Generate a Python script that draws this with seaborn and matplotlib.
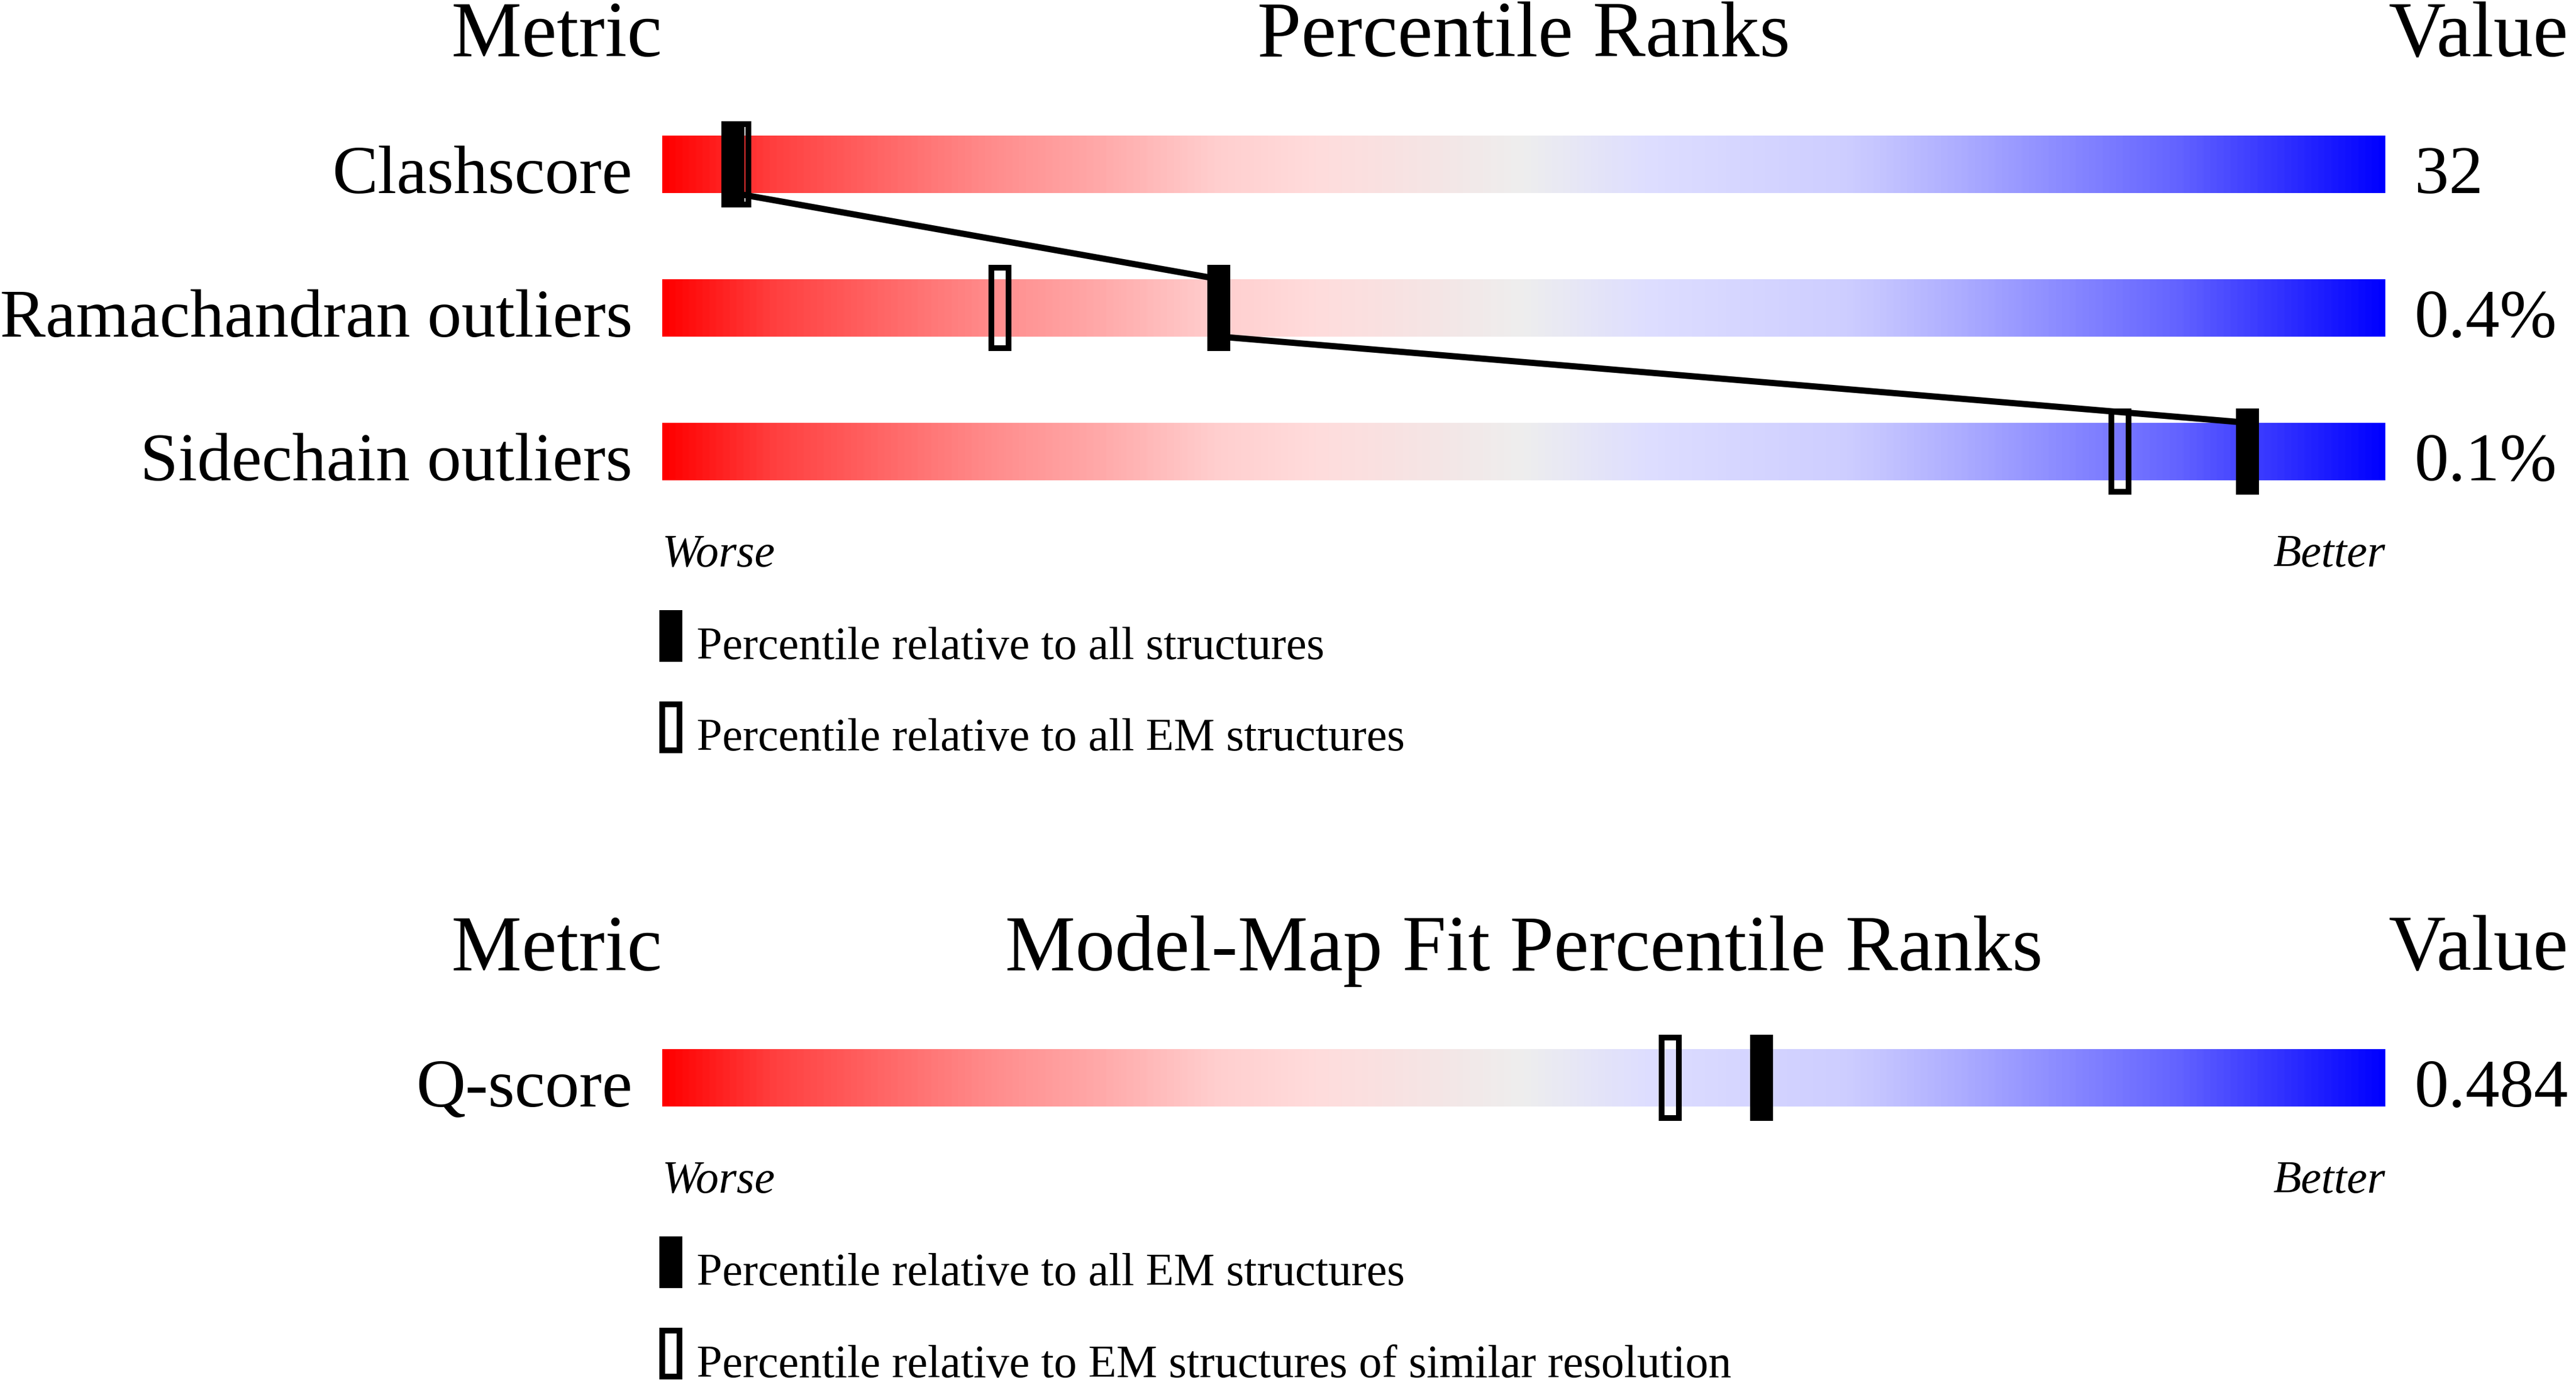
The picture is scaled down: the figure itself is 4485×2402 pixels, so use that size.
import matplotlib
matplotlib.use("Agg")
import matplotlib.pyplot as plt
from matplotlib.colors import LinearSegmentedColormap
import numpy as np
import pandas as pd
import seaborn as sns

# ---------------------------------------------------------------------------
# Data (percentile ranks read off the reference slider)
# ---------------------------------------------------------------------------
top_metrics = ["Clashscore", "Ramachandran outliers", "Sidechain outliers"]
top_values = ["32", "0.4%", "0.1%"]
top_pct_filled = [4.1, 32.3, 92.0]   # relative to all structures
top_pct_open = [4.5, 19.6, 84.6]     # relative to all EM structures
top_legend = ["Percentile relative to all structures",
              "Percentile relative to all EM structures"]

fit_metrics = ["Q-score"]
fit_values = ["0.484"]
fit_pct_filled = [63.8]              # relative to all EM structures
fit_pct_open = [58.5]                # relative to EM structures of similar resolution
fit_legend = ["Percentile relative to all EM structures",
              "Percentile relative to EM structures of similar resolution"]

# slider colour ramp: worse (red) -> grey -> better (blue)
grad_pos = [0.0, 0.064, 0.19, 0.255, 0.32, 0.38, 0.446, 0.50,
            0.57, 0.69, 0.75, 0.82, 0.88, 1.0]
grad_col = ["#ff0000", "#ff4040", "#ff8c8c", "#ffaaaa", "#ffcece", "#ffdcdc",
            "#f5e5e5", "#eeeeee", "#dedeff", "#cdcdff", "#afafff", "#8787ff",
            "#6464ff", "#0000ff"]

# ---------------------------------------------------------------------------
# Layout (pixels of the output image)
# ---------------------------------------------------------------------------
W, H, DPI = 4485, 2402, 300
BAR_L, BAR_R = 1153, 4153
ROW_PX = 250
XU = (BAR_R - BAR_L) / 100.0       # px per percentile unit

sns.set_theme(style="white")
plt.rcParams["font.family"] = ["Liberation Serif", "DejaVu Serif"]
plt.rcParams["text.color"] = "black"

cmap = LinearSegmentedColormap.from_list("slider", list(zip(grad_pos, grad_col)))
ramp = np.linspace(0, 1, 1024)[None, :]

HEAD_FS, LABEL_FS, SMALL_FS = 33.0, 28.6, 19.2


def draw_panel(fig, row0_center, title, metrics, values, pct_filled, pct_open, legend):
    n = len(metrics)
    top_px = row0_center - ROW_PX / 2
    ax = fig.add_axes([BAR_L / W, 1 - (top_px + n * ROW_PX) / H,
                       (BAR_R - BAR_L) / W, n * ROW_PX / H])

    rows = np.arange(n)
    for i in rows:
        ax.imshow(ramp, cmap=cmap, extent=(0, 100, i + 0.2, i - 0.2),
                  aspect="auto", interpolation="bilinear", zorder=1)

    # line joining the filled markers, bar bottom -> next bar top
    if n > 1:
        lx, ly = [], []
        for i in rows:
            if i > 0:
                lx.append(pct_filled[i]); ly.append(i - 0.2)
            if i < n - 1:
                lx.append(pct_filled[i]); ly.append(i + 0.2)
        line_df = pd.DataFrame({"pct": lx, "row": ly})
        sns.lineplot(data=line_df, x="pct", y="row", sort=False, estimator=None,
                     color="black", linewidth=2.6, ax=ax, zorder=2)

    ax.bar(pct_open, 0.56, width=1.0, bottom=rows - 0.28, facecolor="none",
           edgecolor="black", linewidth=2.4, zorder=3)
    ax.bar(pct_filled, 0.56, width=1.0, bottom=rows - 0.28, facecolor="black",
           edgecolor="black", linewidth=2.4, zorder=4)

    # headers
    hy = -0.75
    ax.text(0, hy, "Metric", ha="right", va="baseline", fontsize=HEAD_FS)
    ax.text(50, hy, title, ha="center", va="baseline", fontsize=HEAD_FS)
    ax.text(100.2, hy, "Value", ha="left", va="baseline", fontsize=HEAD_FS)

    for i in rows:
        ax.text(-52 / XU, i + 0.2, metrics[i], ha="right", va="baseline",
                fontsize=LABEL_FS)
        ax.text(100 + 51 / XU, i + 0.2, values[i], ha="left", va="baseline",
                fontsize=LABEL_FS)

    last = n - 1
    ax.text(0, last + 0.8, "Worse", ha="left", va="baseline",
            fontsize=SMALL_FS, style="italic")
    ax.text(100, last + 0.8, "Better", ha="right", va="baseline",
            fontsize=SMALL_FS, style="italic")

    # legend
    key_y = [last + 1.283, last + 1.921]
    ax.bar([0.5], [0.32], width=1.0, bottom=[key_y[0] - 0.16], facecolor="black",
           edgecolor="black", linewidth=2.4, clip_on=False)
    ax.bar([0.5], [0.32], width=1.0, bottom=[key_y[1] - 0.16], facecolor="none",
           edgecolor="black", linewidth=2.4, clip_on=False)
    for k, txt in enumerate(legend):
        ax.text(2.0, key_y[k] + 0.161, txt, ha="left", va="baseline",
                fontsize=SMALL_FS)

    ax.set_xlim(0, 100)
    ax.set_ylim(n - 0.5, -0.5)
    ax.axis("off")
    return ax


fig = plt.figure(figsize=(W / DPI, H / DPI), dpi=DPI)
draw_panel(fig, 285.8, "Percentile Ranks", top_metrics, top_values,
           top_pct_filled, top_pct_open, top_legend)
draw_panel(fig, 1876.0, "Model-Map Fit Percentile Ranks", fit_metrics, fit_values,
           fit_pct_filled, fit_pct_open, fit_legend)

fig.savefig("out.png", dpi=DPI, facecolor="white")
plt.close(fig)
